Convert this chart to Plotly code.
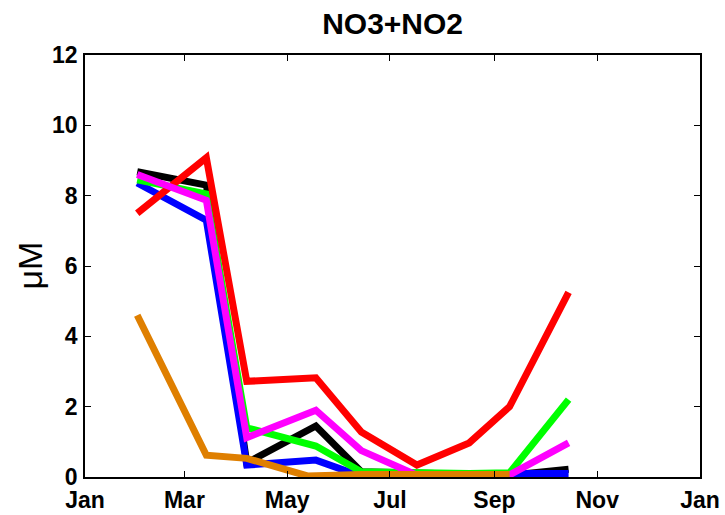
import plotly.graph_objects as go

# Sampling dates (year arbitrary)
dates = ["2001-02-01", "2001-03-14", "2001-04-07", "2001-05-18", "2001-06-14",
         "2001-07-17", "2001-08-17", "2001-09-10", "2001-10-15"]
dates_orange = ["2001-02-01", "2001-03-14", "2001-04-07", "2001-05-13", "2001-06-14",
                "2001-07-17", "2001-08-17", "2001-09-10"]

black = [8.68, 8.30, 0.40, 1.45, 0.15, 0.10, 0.10, 0.05, 0.22]
blue = [8.36, 7.30, 0.34, 0.48, 0.02, 0.02, 0.02, 0.10, 0.10]
green = [8.45, 8.05, 1.40, 0.88, 0.15, 0.10, 0.10, 0.12, 2.20]
red = [7.50, 9.08, 2.72, 2.82, 1.28, 0.34, 0.97, 2.00, 5.25]
magenta = [8.60, 7.87, 1.12, 1.90, 0.75, 0.05, 0.03, 0.06, 0.97]
orange = [4.60, 0.62, 0.53, 0.03, 0.07, 0.08, 0.08, 0.07]

tick_dates = ["2001-01-01", "2001-03-01", "2001-05-01", "2001-07-01",
              "2001-09-01", "2001-11-01", "2002-01-01"]
tick_labels = ["Jan", "Mar", "May", "Jul", "Sep", "Nov", "Jan"]
y_ticks = [0, 2, 4, 6, 8, 10, 12]

series = [
    (dates, black, "#000000"),
    (dates, blue, "#0000FF"),
    (dates, green, "#00FF00"),
    (dates, red, "#FF0000"),
    (dates, magenta, "#FF00FF"),
    (dates_orange, orange, "#DF7F00"),
]

fig = go.Figure()
for xs, ys, col in series:
    fig.add_trace(go.Scatter(x=xs, y=ys, mode="lines",
                             line=dict(color=col, width=7),
                             showlegend=False, cliponaxis=True))

FAM = "Liberation Sans, Arial, sans-serif"
font_tick = dict(family=FAM, size=23, color="black")

fig.update_layout(
    width=725, height=515,
    margin=dict(l=85, r=25, t=55, b=38),
    paper_bgcolor="white", plot_bgcolor="white",
    title=dict(text="<b>NO3+NO2</b>", x=0.5415, xanchor="center",
               y=1 - 23 / 515, yanchor="middle",
               font=dict(family=FAM, size=30, color="black")),
    xaxis=dict(type="date", range=["2001-01-01", "2002-01-01"],
               tickvals=tick_dates, ticktext=["<b>%s</b>" % t for t in tick_labels],
               ticks="inside", ticklen=6, tickcolor="black", tickwidth=1,
               showline=True, linecolor="black", linewidth=1.5, mirror="ticks",
               showgrid=False, zeroline=False, tickfont=font_tick,
               ticklabelstandoff=2, automargin=False),
    yaxis=dict(range=[0, 12], tickvals=y_ticks,
               ticktext=["<b>%d</b>" % v for v in y_ticks],
               ticks="inside", ticklen=6, tickcolor="black", tickwidth=1,
               showline=True, linecolor="black", linewidth=1.5, mirror="ticks",
               showgrid=False, zeroline=False, tickfont=font_tick,
               ticklabelstandoff=1, automargin=False),
    annotations=[dict(text="μM", textangle=-90, xref="paper", yref="paper",
                      x=(29.5 - 85) / 615, y=0.5, xanchor="center", yanchor="middle",
                      showarrow=False,
                      font=dict(family=FAM, size=34, color="black"))],
)

fig.write_html("out.html", config={"displayModeBar": False},
               post_script="document.body.style.margin='0';document.body.style.overflow='hidden';")
